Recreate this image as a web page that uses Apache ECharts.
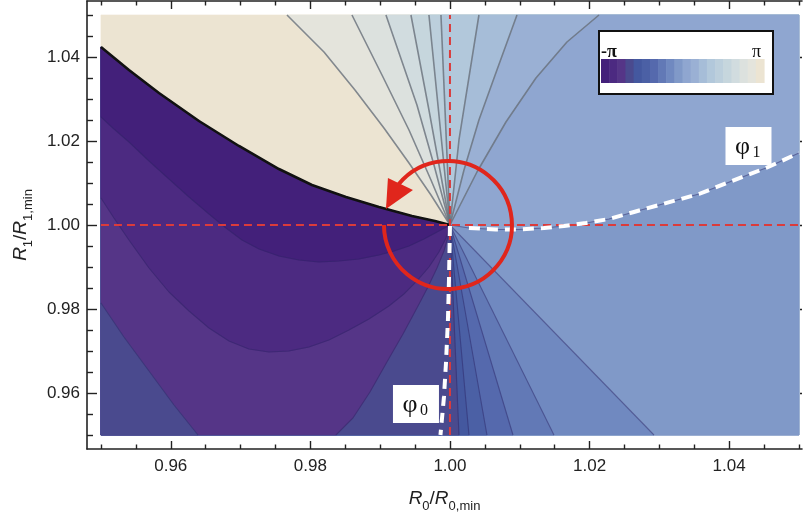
<!DOCTYPE html>
<html>
<head>
<meta charset="utf-8">
<script src="https://cdn.jsdelivr.net/npm/echarts@6.0.0/dist/echarts.min.js"></script>
<style>
html,body{margin:0;padding:0;background:#ffffff;}
#chart{width:803px;height:519px;}
</style>
</head>
<body>
<div id="chart"></div>
<script>
// ---------------- data ----------------
const majorTicks = [0.96, 0.98, 1.00, 1.02, 1.04];
const minorTicks = [0.95, 0.955, 0.965, 0.97, 0.975, 0.985, 0.99, 0.995, 1.005, 1.01, 1.015, 1.025, 1.03, 1.035, 1.045, 1.05];
const legendLabels = ['-π', 'π'];
const levelColors = ['#43207a','#4c2a81','#553587','#4a4a8e','#44589f','#4b60a5','#5569ad','#6279b6','#7089c0','#8099c8',
                     '#8fa6d0','#9ab0d4','#a6bdd8','#b2c8db','#bccfdc','#c6d6dd','#d1dcdf','#dce1de','#e4e4dc','#ece4d2'];
const singularPoint = [1.00, 1.00];
const refX = 1.00, refY = 1.00;
const plotX = [0.95, 1.05], plotY = [0.95, 1.05];

const branchCut = [[1,1],[0.99785,1.00095],[0.99456,1.00214],[0.98983,1.00429],[0.9851,1.00667],[0.98023,1.00952],[0.9755,1.01333],[0.96977,1.01881],[0.96404,1.02476],[0.95831,1.03143],[0.95401,1.0369],[0.95,1.04238]];
const contour_1_2 = [[1,1],[0.99842,0.99857],[0.99628,0.99667],[0.99413,0.995],[0.99198,0.99381],[0.98983,0.99286],[0.98696,0.9919],[0.9841,0.99143],[0.98123,0.99119],[0.97837,0.99167],[0.9755,0.99262],[0.97264,0.99429],[0.9702,0.99643],[0.96791,0.99929],[0.96547,1.00262],[0.96261,1.00667],[0.95974,1.01095],[0.95688,1.01524],[0.95401,1.01976],[0.95186,1.02286],[0.95,1.02571]];
const contour_2_3 = [[1,1],[0.99943,0.9969],[0.99842,0.99357],[0.99699,0.99],[0.99527,0.98667],[0.99341,0.98357],[0.99126,0.98071],[0.9884,0.97762],[0.98553,0.975],[0.98266,0.97262],[0.9798,0.97095],[0.97693,0.97],[0.97407,0.96976],[0.9712,0.97048],[0.96834,0.97238],[0.96547,0.97548],[0.96261,0.97952],[0.95974,0.98405],[0.95688,0.98976],[0.95401,0.99643],[0.95186,1.00167],[0.95,1.00643]];
const contour_3_4 = [[1,1],[0.99971,0.99714],[0.99914,0.99381],[0.99814,0.98976],[0.99685,0.98524],[0.99527,0.98024],[0.99327,0.97405],[0.99097,0.96738],[0.98854,0.96024],[0.9861,0.95405],[0.98367,0.95]];
const contour_3_4_corner = [[0.95,0.98143],[0.95329,0.97333],[0.95688,0.96524],[0.96046,0.95714],[0.9639,0.95]];
const contour_4_5 = [[1,1],[1.00129,0.95]];
const contour_5_6 = [[1,1],[1.00272,0.95]];
const contour_6_7 = [[1,1],[1.0053,0.95]];
const contour_7_8 = [[1,1],[1.00903,0.95]];
const contour_8_9 = [[1,1],[1.0149,0.95]];
const contour_9_10 = [[1,1],[1.02923,0.95]];
const contour_10_11 = [[1,1],[1.00272,0.99929],[1.00659,0.99893],[1.00989,0.99893],[1.01347,0.99929],[1.01633,0.99976],[1.01948,1.00048],[1.02278,1.00143],[1.02636,1.0031],[1.02994,1.00476],[1.03567,1.00738],[1.0404,1.01048],[1.04527,1.01357],[1.05,1.01714]];
const contour_11_12 = [[1,1],[1.00387,1.01262],[1.00802,1.02452],[1.01232,1.035],[1.01676,1.04357],[1.02135,1.05]];
const contour_12_13 = [[1,1],[1.00201,1.0131],[1.00415,1.025],[1.00673,1.0369],[1.0096,1.05]];
const contour_13_14 = [[1,1],[1.00129,1.02024],[1.00415,1.05]];
const contour_14_15 = [[1,1],[0.99871,1.05]];
const contour_15_16 = [[1,1],[0.99699,1.05]];
const contour_16_17 = [[1,1],[0.99699,1.02738],[0.99441,1.05]];
const contour_17_18 = [[1,1],[0.99771,1.01429],[0.99527,1.02857],[0.99083,1.05]];
const contour_18_19 = [[1,1],[0.99728,1.01071],[0.99413,1.02262],[0.99026,1.03571],[0.98596,1.05]];
const contour_19_20 = [[1,1],[0.99728,1.00714],[0.99413,1.01476],[0.99054,1.0231],[0.98639,1.03214],[0.98195,1.04119],[0.97665,1.05]];
const phi0Path = [[1,0.99976],[0.99986,0.9869],[0.99971,0.97738],[0.99943,0.96714],[0.99914,0.95905],[0.99864,0.95]];
const phi0LabelAt = [0.99513, 0.95738];
const phi1LabelAt = [1.04277, 1.01881];

// ---------------- build geometry ----------------
const boundaries = [contour_1_2, contour_2_3, contour_3_4, contour_4_5, contour_5_6, contour_6_7, contour_7_8, contour_8_9, contour_9_10,
  contour_10_11, contour_11_12, contour_12_13, contour_13_14, contour_14_15, contour_15_16, contour_16_17, contour_17_18, contour_18_19, contour_19_20];
const X0 = plotX[0], X1 = plotX[1], Y0 = plotY[0], Y1 = plotY[1];
function perim(p) {
  const e = 1e-9;
  if (Math.abs(p[0] - X0) < e) return (Y1 - p[1]) / (Y1 - Y0);
  if (Math.abs(p[1] - Y0) < e) return 1 + (p[0] - X0) / (X1 - X0);
  if (Math.abs(p[0] - X1) < e) return 2 + (p[1] - Y0) / (Y1 - Y0);
  return 3 + (X1 - p[0]) / (X1 - X0);
}
const corners = [[X0, Y0, 1], [X1, Y0, 2], [X1, Y1, 3]];
function walk(sa, sb) { return corners.filter(c => c[2] > sa && c[2] < sb).map(c => [c[0], c[1]]); }
const sCut = perim(branchCut[branchCut.length - 1]);
function sublevel(k) { // levels 1..k
  const b = boundaries[k - 1];
  const sEnd = perim(b[b.length - 1]);
  return branchCut.concat(walk(sCut, sEnd), b.slice().reverse());
}
const polys = [];
polys.push({ pts: [[X0, Y1], [X0, Y0], [X1, Y0], [X1, Y1]], color: levelColors[19] });
for (let k = 19; k >= 3; k--) polys.push({ pts: sublevel(k), color: levelColors[k - 1] });
polys.push({ pts: contour_3_4_corner.concat([[X0, Y0]]), color: levelColors[3] });
for (let k = 2; k >= 1; k--) polys.push({ pts: sublevel(k), color: levelColors[k - 1] });

const series = [];
series.push({
  type: 'custom', coordinateSystem: 'cartesian2d', silent: true, z: 1, animation: false,
  data: polys.map((p, i) => [1, 1, i]),
  renderItem: function (params, api) {
    const p = polys[params.dataIndex];
    return { type: 'polygon', z2: params.dataIndex, shape: { points: p.pts.map(q => api.coord(q)) },
      style: { fill: p.color, stroke: p.color, lineWidth: 0.6 } };
  }
});
function lineS(data, color, width, type, z) {
  return { type: 'line', data: data, symbol: 'none', showSymbol: false, silent: true, animation: false, z: z,
    lineStyle: { color: color, width: width, type: type || 'solid', cap: 'butt', join: 'round' } };
}
boundaries.forEach((b, i) => {
  const upper = i >= 10;
  series.push(lineS(b, upper ? 'rgba(105,112,122,0.8)' : 'rgba(45,35,100,0.45)', upper ? 1.6 : 1.1, 'solid', 2));
});
series.push(lineS(contour_3_4_corner, 'rgba(45,35,100,0.45)', 1.1, 'solid', 2));
series.push(lineS(branchCut, '#111111', 2.6, 'solid', 3));
series.push(lineS([[refX, Y0], [refX, Y1]], '#db3b3b', 2, [8, 5], 4));
series.push(lineS([[X0, refY], [X1, refY]], '#db3b3b', 2, [8, 5], 4));
series.push(lineS(phi0Path, '#ffffff', 4, [10, 7], 5));
series.push(lineS(contour_10_11.slice(1), '#ffffff', 4, [11, 7], 5));
// annotations: circle arrow around the singular point and phase labels
series.push({
  type: 'custom', coordinateSystem: 'cartesian2d', silent: true, z: 6, animation: false,
  data: [[singularPoint[0], singularPoint[1]]],
  renderItem: function (params, api) {
    const c = api.coord(singularPoint);
    const cx = c[0] - 2, cy = c[1], r = 64;
    const l0 = api.coord(phi0LabelAt), l1 = api.coord(phi1LabelAt);
    function label(pt, sub) {
      return [
        { type: 'rect', shape: { x: pt[0] - 23, y: pt[1] - 19, width: 46, height: 38 }, style: { fill: '#ffffff' } },
        { type: 'text', x: pt[0] - 6, y: pt[1] + 1, style: { text: 'φ', fontFamily: 'Liberation Serif', fontSize: 26, fill: '#111', align: 'center', verticalAlign: 'middle' } },
        { type: 'text', x: pt[0] + 8, y: pt[1] + 7, style: { text: sub, fontFamily: 'Liberation Serif', fontSize: 16, fill: '#111', align: 'center', verticalAlign: 'middle' } }
      ];
    }
    return {
      type: 'group',
      children: [
        { type: 'arc', shape: { cx: cx, cy: cy, r: r, startAngle: -2.45, endAngle: Math.PI, clockwise: true },
          style: { stroke: '#e0261c', lineWidth: 4, fill: null } },
        { type: 'polygon', shape: { points: [[cx - 62, cy - 16], [cx - 60, cy - 47], [cx - 35, cy - 35]] },
          style: { fill: '#e0261c' } }
      ].concat(label(l0, '0'), label(l1, '1'))
    };
  }
});

// legend (colour key)
const legendX = 601, legendY = 59, legendW = 163, legendH = 24;
const graphics = [{ type: 'rect', left: 598, top: 30, shape: { width: 174, height: 63 }, style: { fill: '#fff', stroke: '#111', lineWidth: 2 }, z: 10 }];
levelColors.forEach((col, i) => {
  const w = legendW / levelColors.length;
  graphics.push({ type: 'rect', left: legendX + i * w, top: legendY, shape: { width: w + 0.6, height: legendH }, style: { fill: col }, z: 11 });
});
graphics.push({ type: 'text', left: 601, top: 43, style: { text: legendLabels[0], fontFamily: 'Liberation Serif', fontSize: 18, fontWeight: 'bold', fill: '#111' }, z: 12 });
graphics.push({ type: 'text', left: 752, top: 43, style: { text: legendLabels[1], fontFamily: 'Liberation Serif', fontSize: 18, fill: '#111' }, z: 12 });

const fontSans = 'Liberation Sans';
const axisColor = '#222';
function nameRich() {
  return {
    i: { fontStyle: 'italic', fontSize: 19, fontFamily: fontSans, color: '#222', lineHeight: 28, verticalAlign: 'middle' },
    n: { fontSize: 19, fontFamily: fontSans, color: '#222', lineHeight: 28, verticalAlign: 'middle' },
    s: { fontSize: 13, fontFamily: fontSans, color: '#222', lineHeight: 14, verticalAlign: 'bottom' }
  };
}
const xMin = 0.948, xMax = 1.050436, yMin = 0.9466667, yMax = 1.0533333;
function xAx(pos, major, labels) {
  return {
    type: 'value', min: xMin, max: xMax, position: pos, gridIndex: 0,
    axisLine: { show: major, onZero: false, lineStyle: { color: axisColor, width: 1.6 } },
    axisTick: { show: true, inside: true, length: major ? 8 : 4.5, customValues: major ? majorTicks : minorTicks, lineStyle: { color: axisColor, width: 1.4 } },
    axisLabel: { show: labels, customValues: majorTicks, formatter: v => v.toFixed(2), margin: 9, fontSize: 17, color: '#222', fontFamily: fontSans },
    splitLine: { show: false },
    name: labels ? '{i|R}{s|0}{n|/}{i|R}{s|0,min}' : '', nameLocation: 'middle', nameGap: 36,
    nameTextStyle: { rich: nameRich() }
  };
}
function yAx(pos, major, labels, visibleLine) {
  return {
    type: 'value', min: yMin, max: yMax, position: pos, gridIndex: 0,
    axisLine: { show: major && visibleLine, onZero: false, lineStyle: { color: axisColor, width: 1.6 } },
    axisTick: { show: visibleLine || major, inside: true, length: visibleLine ? (major ? 10 : 6) : 2, customValues: major ? majorTicks : minorTicks, lineStyle: { color: axisColor, width: 1.4 } },
    axisLabel: { show: labels, customValues: majorTicks, formatter: v => v.toFixed(2), margin: 7, fontSize: 17, color: '#222', fontFamily: fontSans },
    splitLine: { show: false },
    name: labels ? '{i|R}{s|1}{n|/}{i|R}{s|1,min}' : '', nameLocation: 'middle', nameGap: 52,
    nameTextStyle: { rich: nameRich() }
  };
}
const chart = echarts.init(document.getElementById('chart'), null, { renderer: 'canvas' });
chart.setOption({
  animation: false,
  backgroundColor: '#ffffff',
  grid: { left: 87, top: 1, right: 1, height: 448, containLabel: false },
  xAxis: [xAx('bottom', true, true), xAx('bottom', false, false), xAx('top', true, false), xAx('top', false, false)],
  yAxis: [yAx('left', true, true, true), yAx('left', false, false, true), yAx('right', true, false, false), yAx('right', false, false, false)],
  graphic: graphics,
  series: series
});
</script>
</body>
</html>
